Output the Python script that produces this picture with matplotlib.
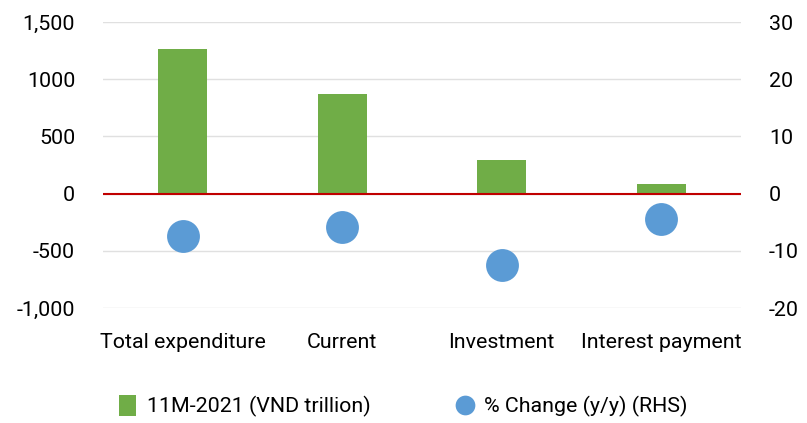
import matplotlib.pyplot as plt
import numpy as np

plt.rcParams['font.family'] = ['Roboto', 'DejaVu Sans']
plt.rcParams['axes.unicode_minus'] = False

categories = ["Total expenditure", "Current", "Investment", "Interest payment"]
values = [1267, 868, 290, 88]          # 11M-2021 (VND trillion)
pct_change = [-7.4, -5.8, -12.4, -4.5]  # % change y/y (RHS)

left_ticks = [-1000, -500, 0, 500, 1000, 1500]
left_labels = ["-1,000", "-500", "0", "500", "1000", "1,500"]
right_ticks = [-20, -10, 0, 10, 20, 30]

fig = plt.figure(figsize=(8.07, 4.23), dpi=100)
ax = fig.add_axes([103 / 807, 1 - 308 / 423, (741 - 103) / 807, (308 - 22) / 423])
ax2 = ax.twinx()

x = np.arange(len(categories))
ax.bar(x, values, width=0.31, color="#70AD47", zorder=2, label="11M-2021 (VND trillion)")
ax.axhline(0, color="#C00000", lw=1.5, zorder=3)
ax.set_ylim(-1000, 1500)
ax.set_yticks(left_ticks)
ax.set_yticklabels(left_labels)
ax.set_xlim(-0.5, len(categories) - 0.5)
ax.set_xticks(x)
ax.set_xticklabels(categories)
ax.grid(axis="y", color="#E0E0E0", lw=1, zorder=0)

ax2.scatter(x, pct_change, s=560, color="#5B9BD5", zorder=4, linewidths=0,
            label="% Change (y/y) (RHS)")
ax2.set_ylim(-20, 30)
ax2.set_yticks(right_ticks)

for a in (ax, ax2):
    for s in a.spines.values():
        s.set_visible(False)
    a.tick_params(length=0, labelsize=15.4, colors="#000000")
ax.tick_params(axis="y", pad=20)
ax2.tick_params(axis="y", pad=20)
ax.tick_params(axis="x", pad=18)

ax.set_zorder(ax2.get_zorder() - 1)
ax.patch.set_visible(False)

h1, l1 = ax.get_legend_handles_labels()
h2, l2 = ax2.get_legend_handles_labels()
fig.legend(h1 + h2, l1 + l2, loc="center", bbox_to_anchor=(0.5, 0.04), ncol=2,
           frameon=False, fontsize=15.4, columnspacing=4.0, handletextpad=0.5,
           markerscale=0.6, handlelength=0.8, handleheight=1.1, borderpad=0.2)

fig.savefig("out.png", dpi=100)
